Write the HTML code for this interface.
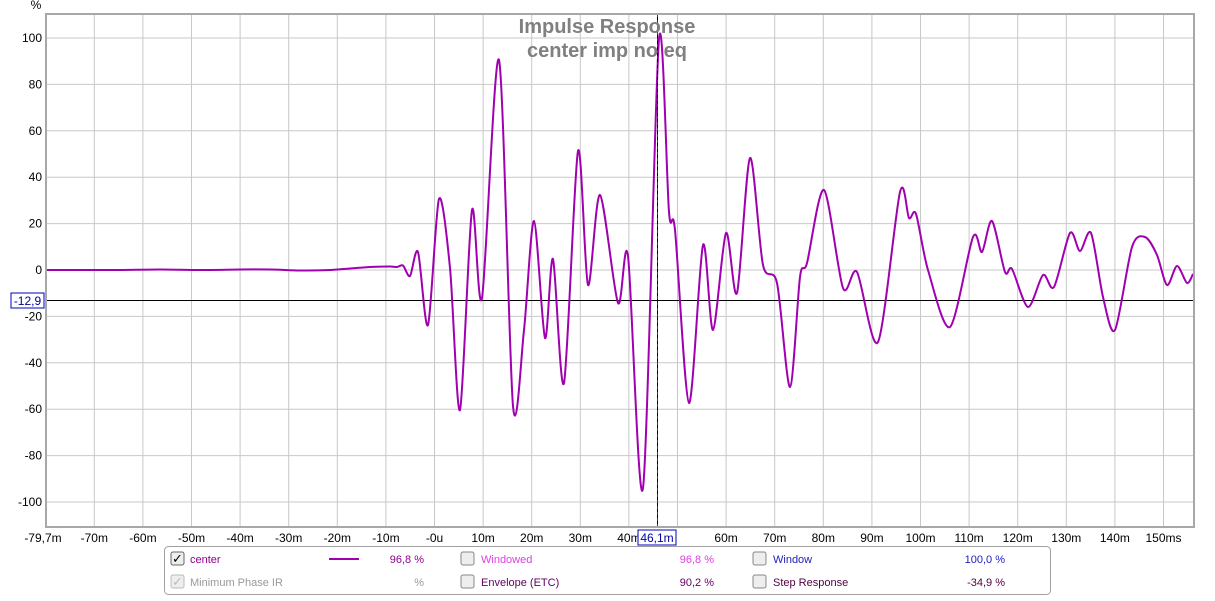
<!DOCTYPE html>
<html><head><meta charset="utf-8"><style>
body{margin:0;background:#fff;width:1215px;height:596px;overflow:hidden;font-family:"Liberation Sans",sans-serif}
svg text{font-family:"Liberation Sans",sans-serif}
</style></head><body>
<svg width="1215" height="596" viewBox="0 0 1215 596" xmlns="http://www.w3.org/2000/svg">
<rect width="1215" height="596" fill="#fff"/>
<g stroke="#c8c8c8" stroke-width="1" id="grid"></g>
<line x1="47" y1="300.5" x2="1193" y2="300.5" stroke="#000" stroke-width="1"/>
<path id="curve" fill="none" stroke="#a000b0" stroke-width="2" stroke-linejoin="round"/>
<line x1="657.5" y1="14" x2="657.5" y2="527" stroke="#000" stroke-width="1"/>
<line x1="657.5" y1="14" x2="657.5" y2="527" stroke="#c00000" stroke-width="1" stroke-dasharray="3,3"/>
<rect x="46" y="14" width="1148" height="513" fill="none" stroke="#a8a8a8" stroke-width="2"/>
<text x="607" y="33" text-anchor="middle" font-size="20" font-weight="bold" fill="#808080">Impulse Response</text>
<text x="607" y="57" text-anchor="middle" font-size="20" font-weight="bold" fill="#808080">center imp no eq</text>
<text x="36" y="9" text-anchor="middle" font-size="12" fill="#000">%</text>
<g id="ylab" font-size="12" fill="#000" text-anchor="end"></g>
<g id="xlab" font-size="12" fill="#000" text-anchor="middle"></g>
<rect x="11" y="293" width="33" height="15" fill="#fff" stroke="#0000c0"/>
<text x="27.5" y="305" text-anchor="middle" font-size="12" fill="#0000a0">-12,9</text>
<rect x="638" y="530" width="38" height="15" fill="#fff" stroke="#0000c0"/>
<text x="657" y="542" text-anchor="middle" font-size="12" fill="#0000a0">46,1m</text>
<rect x="164.5" y="546.5" width="886" height="48" rx="4" fill="#fff" stroke="#a0a0a0"/>
<g font-size="11">
<rect x="171" y="552" width="13" height="13" rx="2" fill="#eee" stroke="#666"/><text x="172" y="563" font-size="13" fill="#000">✓</text>
<text x="190" y="563" fill="#900090">center</text>
<line x1="329" y1="559" x2="359" y2="559" stroke="#a000b0" stroke-width="2"/>
<text x="424" y="563" text-anchor="end" fill="#900090">96,8 %</text>
<rect x="171" y="575" width="13" height="13" rx="2" fill="#eee" stroke="#bbb"/><text x="172" y="586" font-size="13" fill="#bbb">✓</text>
<text x="190" y="586" fill="#999">Minimum Phase IR</text>
<text x="424" y="586" text-anchor="end" fill="#999">%</text>
<rect x="461" y="552" width="13" height="13" rx="2" fill="#eee" stroke="#888"/>
<text x="481" y="563" fill="#e040e0">Windowed</text>
<text x="714" y="563" text-anchor="end" fill="#e040e0">96,8 %</text>
<rect x="461" y="575" width="13" height="13" rx="2" fill="#eee" stroke="#888"/>
<text x="481" y="586" fill="#600060">Envelope (ETC)</text>
<text x="714" y="586" text-anchor="end" fill="#600060">90,2 %</text>
<rect x="753" y="552" width="13" height="13" rx="2" fill="#eee" stroke="#888"/>
<text x="773" y="563" fill="#2020c0">Window</text>
<text x="1005" y="563" text-anchor="end" fill="#2020c0">100,0 %</text>
<rect x="753" y="575" width="13" height="13" rx="2" fill="#eee" stroke="#888"/>
<text x="773" y="586" fill="#500040">Step Response</text>
<text x="1005" y="586" text-anchor="end" fill="#500040">-34,9 %</text>
</g>
</svg>
<script>
const NS="http://www.w3.org/2000/svg";
const g=document.getElementById('grid'),yl=document.getElementById('ylab'),xl=document.getElementById('xlab');
function el(p,t,a,txt){const e=document.createElementNS(NS,t);for(const k in a)e.setAttribute(k,a[k]);if(txt)e.textContent=txt;p.appendChild(e);}
for(let v=-100;v<=100;v+=20){const y=270-v*2.32;el(g,'line',{x1:47,x2:1193,y1:y,y2:y});el(yl,'text',{x:42,y:y+4},String(v));}
const x0=434.5,s=4.86;
for(let m=-70;m<=150;m+=10){const x=x0+m*s;el(g,'line',{x1:x,x2:x,y1:14,y2:527});
let lab=m==0?'-0u':(m==150?'150ms':m+'m');if(m==50)continue;el(xl,'text',{x:x,y:542},lab);}
el(xl,'text',{x:43,y:542},'-79,7m');
const P=[[47,270],[80,270],[120,270],[160,269.5],[200,270],[240,269.5],[270,269.5],[300,270.5],[330,270],[350,268.5],[370,267],[390,266.5],[397,267],[403,265.5],[410,276],[418,252],[428,325],[439,199],[450,268],[460,410],[472,210],[482,298],[499,60],[513,406],[524,330],[534,221],[545,338],[553,259],[564,383],[578,151],[588,285],[600,195],[618,303],[628,256],[643,488],[659,39],[669,212],[675,230],[689,403],[703,245],[713,330],[726,233],[737,293],[750,158],[763,265],[777,283],[790,387],[800,277],[807,263],[824,190],[843,288],[857,272],[878,342],[900,192],[909,218],[916,214],[928,270],[950,327],[973,237],[982,252],[992,221],[1005,272],[1012,269],[1028,307],[1043,275],[1054,287],[1070,233],[1080,251],[1091,233],[1103,297],[1115,330],[1132,247],[1145,237],[1157,255],[1167,285],[1177,266],[1187,283],[1193,274]];
let d='M'+P[0][0]+','+P[0][1];
for(let i=0;i<P.length-1;i++){const p0=P[Math.max(0,i-1)],p1=P[i],p2=P[i+1],p3=P[Math.min(P.length-1,i+2)];
const k=7;const c1=[p1[0]+(p2[0]-p0[0])/k,p1[1]+(p2[1]-p0[1])/k],c2=[p2[0]-(p3[0]-p1[0])/k,p2[1]-(p3[1]-p1[1])/k];
d+=` C${c1[0].toFixed(1)},${c1[1].toFixed(1)} ${c2[0].toFixed(1)},${c2[1].toFixed(1)} ${p2[0]},${p2[1]}`;}
document.getElementById('curve').setAttribute('d',d);
</script>
</body></html>
